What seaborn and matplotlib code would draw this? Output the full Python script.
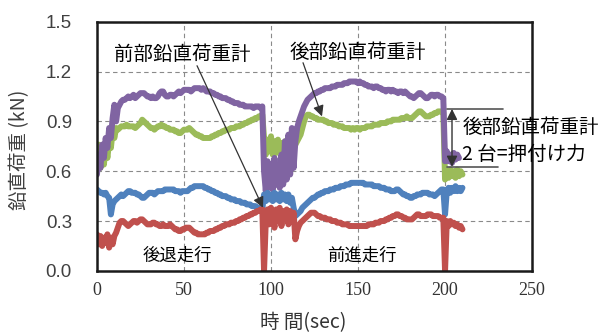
import numpy as np
import pandas as pd
import matplotlib
matplotlib.use("Agg")
import matplotlib.pyplot as plt
import seaborn as sns

nan = np.nan

# Load-cell channels sampled once per second (kN)
time_s = np.arange(212)

load_purple = [
    0.58, 0.70, 0.62, 0.76, 0.68, 0.80, 0.74, 0.86, 0.80, 0.92,
    1.00, 0.90, 0.98, 1.00, 1.02, 1.03, 1.03, 1.04, 1.05, 1.04,
    1.05, 1.06, 1.04, 1.05, 1.06, 1.07, 1.07, 1.07, 1.06, 1.05,
    1.05, 1.04, 1.05, 1.04, 1.04, 1.05, 1.07, 1.08, 1.08, 1.06,
    1.05, 1.05, 1.06, 1.06, 1.05, 1.06, 1.07, 1.08, 1.07, 1.08,
    1.09, 1.09, 1.09, 1.09, 1.08, 1.09, 1.10, 1.10, 1.10, 1.10,
    1.09, 1.10, 1.09, 1.08, 1.08, 1.08, 1.07, 1.07, 1.06, 1.06,
    1.05, 1.05, 1.04, 1.04, 1.04, 1.03, 1.03, 1.02, 1.02, 1.01,
    1.01, 1.01, 1.00, 1.00, 1.00, 0.99, 0.99, 0.99, 0.99, 0.99,
    0.98, 0.99, 0.99, 0.99, 0.98, 0.99, 0.60, 0.48, 0.66, 0.50,
    0.64, 0.49, 0.68, 0.52, 0.63, 0.50, 0.70, 0.52, 0.78, 0.55,
    0.82, 0.58, 0.86, 0.62, 0.78, 0.86, 0.90, 0.93, 0.96, 0.99,
    1.01, 1.03, 1.04, 1.05, 1.06, 1.07, 1.07, 1.08, 1.08, 1.09,
    1.09, 1.10, 1.10, 1.10, 1.10, 1.11, 1.11, 1.11, 1.12, 1.12,
    1.12, 1.12, 1.13, 1.13, 1.13, 1.14, 1.14, 1.14, 1.14, 1.14,
    1.13, 1.14, 1.13, 1.13, 1.12, 1.12, 1.11, 1.11, 1.11, 1.10,
    1.11, 1.11, 1.10, 1.10, 1.09, 1.09, 1.08, 1.09, 1.09, 1.08,
    1.09, 1.08, 1.08, 1.07, 1.08, 1.08, 1.07, 1.08, 1.07, 1.06,
    1.05, 1.05, 1.04, 1.05, 1.06, 1.07, 1.07, 1.06, 1.05, 1.04,
    1.04, 1.05, 1.06, 1.06, 1.05, 1.06, 1.06, 1.05, 1.05, 1.04,
    0.66, 0.72, 0.66, 0.70, 0.65, 0.71, 0.67, 0.70, 0.68, nan, nan, nan,
]

load_green = [
    0.60, 0.76, 0.62, 0.74, 0.64, 0.76, 0.68, 0.78, 0.74, 0.84,
    0.80, 0.86, 0.85, 0.86, 0.87, 0.87, 0.87, 0.88, 0.87, 0.87,
    0.87, 0.87, 0.86, 0.87, 0.88, 0.89, 0.91, 0.90, 0.89, 0.88,
    0.87, 0.86, 0.86, 0.85, 0.86, 0.87, 0.87, 0.88, 0.87, 0.87,
    0.86, 0.86, 0.85, 0.85, 0.85, 0.84, 0.84, 0.83, 0.83, 0.84,
    0.85, 0.85, 0.85, 0.86, 0.85, 0.84, 0.83, 0.82, 0.82, 0.81,
    0.81, 0.80, 0.80, 0.80, 0.80, 0.80, 0.81, 0.81, 0.82, 0.82,
    0.83, 0.83, 0.84, 0.84, 0.85, 0.85, 0.85, 0.86, 0.86, 0.86,
    0.87, 0.87, 0.87, 0.88, 0.88, 0.89, 0.89, 0.90, 0.90, 0.91,
    0.91, 0.92, 0.92, 0.93, 0.93, 0.94, 0.80, 0.70, 0.79, 0.72,
    0.81, 0.70, 0.78, 0.71, 0.79, 0.72, 0.77, 0.70, 0.78, 0.72,
    0.77, 0.71, 0.80, 0.74, 0.76, 0.78, 0.80, 0.82, 0.86, 0.90,
    0.93, 0.94, 0.94, 0.93, 0.93, 0.92, 0.92, 0.91, 0.91, 0.91,
    0.91, 0.90, 0.90, 0.89, 0.89, 0.89, 0.88, 0.88, 0.88, 0.87,
    0.87, 0.87, 0.86, 0.86, 0.86, 0.86, 0.85, 0.86, 0.85, 0.86,
    0.86, 0.85, 0.86, 0.86, 0.86, 0.87, 0.87, 0.87, 0.87, 0.88,
    0.88, 0.88, 0.88, 0.89, 0.89, 0.89, 0.89, 0.90, 0.90, 0.90,
    0.91, 0.91, 0.91, 0.91, 0.91, 0.92, 0.92, 0.92, 0.93, 0.92,
    0.92, 0.92, 0.93, 0.94, 0.95, 0.96, 0.96, 0.95, 0.94, 0.93,
    0.93, 0.93, 0.94, 0.94, 0.95, 0.95, 0.96, 0.96, 0.96, 0.95,
    0.55, 0.60, 0.56, 0.61, 0.57, 0.60, 0.56, 0.61, 0.57, 0.60, 0.58, nan,
]

load_blue = [
    0.49, 0.48, 0.47, 0.47, 0.46, 0.47, 0.45, 0.44, 0.34, 0.40,
    0.42, 0.43, 0.44, 0.45, 0.46, 0.45, 0.46, 0.47, 0.48, 0.48,
    0.47, 0.47, 0.47, 0.46, 0.46, 0.45, 0.44, 0.44, 0.45, 0.46,
    0.47, 0.47, 0.47, 0.46, 0.47, 0.48, 0.48, 0.48, 0.48, 0.49,
    0.49, 0.49, 0.49, 0.49, 0.49, 0.48, 0.48, 0.48, 0.47, 0.48,
    0.48, 0.48, 0.48, 0.49, 0.50, 0.50, 0.51, 0.51, 0.51, 0.51,
    0.51, 0.51, 0.50, 0.50, 0.49, 0.49, 0.48, 0.48, 0.47, 0.47,
    0.46, 0.46, 0.45, 0.45, 0.45, 0.44, 0.44, 0.43, 0.43, 0.43,
    0.42, 0.42, 0.42, 0.41, 0.41, 0.41, 0.40, 0.40, 0.40, 0.39,
    0.39, 0.39, 0.38, 0.38, 0.38, 0.37, 0.46, 0.42, 0.47, 0.43,
    0.46, 0.42, 0.47, 0.43, 0.46, 0.42, 0.47, 0.43, 0.46, 0.42,
    0.46, 0.41, 0.44, 0.38, 0.33, 0.34, 0.35, 0.36, 0.38, 0.39,
    0.40, 0.41, 0.42, 0.43, 0.44, 0.44, 0.45, 0.46, 0.46, 0.47,
    0.47, 0.48, 0.48, 0.48, 0.49, 0.49, 0.49, 0.50, 0.50, 0.50,
    0.51, 0.51, 0.51, 0.52, 0.52, 0.52, 0.53, 0.53, 0.53, 0.53,
    0.53, 0.53, 0.53, 0.53, 0.52, 0.52, 0.52, 0.52, 0.52, 0.51,
    0.51, 0.51, 0.51, 0.50, 0.50, 0.50, 0.49, 0.49, 0.49, 0.48,
    0.48, 0.48, 0.49, 0.49, 0.48, 0.47, 0.46, 0.46, 0.45, 0.45,
    0.44, 0.44, 0.45, 0.45, 0.46, 0.46, 0.46, 0.47, 0.47, 0.47,
    0.47, 0.46, 0.46, 0.46, 0.45, 0.46, 0.47, 0.48, 0.49, 0.49,
    0.34, 0.48, 0.50, 0.47, 0.50, 0.48, 0.51, 0.48, 0.50, 0.48, 0.50, nan,
]

load_red = [
    0.22, 0.16, 0.21, 0.15, 0.20, 0.17, 0.22, 0.14, 0.20, 0.16,
    0.21, 0.23, 0.26, 0.29, 0.30, 0.30, 0.29, 0.28, 0.27, 0.28,
    0.29, 0.30, 0.30, 0.29, 0.30, 0.31, 0.31, 0.30, 0.29, 0.28,
    0.28, 0.28, 0.29, 0.29, 0.28, 0.28, 0.27, 0.27, 0.28, 0.27,
    0.27, 0.27, 0.28, 0.27, 0.26, 0.25, 0.25, 0.24, 0.24, 0.25,
    0.25, 0.26, 0.26, 0.26, 0.25, 0.24, 0.23, 0.23, 0.22, 0.22,
    0.22, 0.22, 0.22, 0.23, 0.23, 0.24, 0.24, 0.24, 0.25, 0.25,
    0.26, 0.26, 0.27, 0.27, 0.28, 0.28, 0.28, 0.29, 0.29, 0.29,
    0.30, 0.30, 0.31, 0.31, 0.32, 0.32, 0.33, 0.33, 0.34, 0.34,
    0.35, 0.35, 0.36, 0.36, 0.37, 0.37, 0.00, 0.30, 0.37, 0.28,
    0.38, 0.32, 0.26, 0.37, 0.30, 0.38, 0.27, 0.36, 0.32, 0.37,
    0.28, 0.36, 0.30, 0.35, 0.19, 0.24, 0.27, 0.29, 0.30, 0.31,
    0.32, 0.33, 0.34, 0.35, 0.35, 0.35, 0.34, 0.33, 0.33, 0.32,
    0.32, 0.32, 0.31, 0.31, 0.31, 0.30, 0.30, 0.30, 0.29, 0.29,
    0.29, 0.28, 0.28, 0.28, 0.28, 0.27, 0.27, 0.27, 0.27, 0.27,
    0.27, 0.27, 0.27, 0.27, 0.27, 0.27, 0.28, 0.28, 0.28, 0.28,
    0.29, 0.29, 0.29, 0.30, 0.30, 0.30, 0.31, 0.31, 0.32, 0.32,
    0.33, 0.33, 0.34, 0.34, 0.33, 0.33, 0.32, 0.32, 0.31, 0.31,
    0.31, 0.31, 0.32, 0.33, 0.34, 0.34, 0.33, 0.33, 0.33, 0.33,
    0.34, 0.34, 0.34, 0.33, 0.33, 0.33, 0.33, 0.32, 0.32, 0.32,
    0.00, 0.30, 0.27, 0.30, 0.28, 0.29, 0.27, 0.28, 0.26, 0.27, 0.25, nan,
]

x_ticks = [0, 50, 100, 150, 200, 250]
y_ticks = [0.0, 0.3, 0.6, 0.9, 1.2, 1.5]

channel_order = ["green", "purple", "blue", "red"]
channel_colors = ["#9BBB59", "#8064A2", "#4F81BD", "#C0504D"]

df = pd.DataFrame({
    "time": time_s,
    "green": load_green,
    "purple": load_purple,
    "blue": load_blue,
    "red": load_red,
}).melt(id_vars="time", var_name="channel", value_name="load")

sns.set_theme(style="white")
plt.rcParams["font.family"] = ["Noto Sans CJK JP", "DejaVu Sans"]

fig = plt.figure(figsize=(6.06, 3.34), dpi=100)
ax = fig.add_axes([0.160, 0.189, 0.718, 0.746])

sns.lineplot(
    data=df, x="time", y="load", hue="channel",
    hue_order=channel_order, palette=channel_colors,
    linewidth=4.3, estimator=None, sort=False, legend=False, ax=ax,
)

ax.set_xlim(0, 250)
ax.set_ylim(0, 1.5)
ax.set_xticks(x_ticks)
ax.set_yticks(y_ticks)
ax.set_xticklabels([str(v) for v in x_ticks], fontfamily="Liberation Serif",
                   fontsize=13, color="#333333")
ax.set_yticklabels([f"{v:.1f}" for v in y_ticks], fontfamily="Liberation Sans",
                   fontsize=13.5, color="#404040")
ax.tick_params(axis="x", length=0, pad=8)
ax.tick_params(axis="y", length=0, pad=18)
ax.set_xlabel("")
ax.set_ylabel("")

ax.set_axisbelow(True)
ax.grid(True, linestyle=(0, (4, 3)), color="#8a8a8a", linewidth=0.8)
for sp in ax.spines.values():
    sp.set_visible(True)
    sp.set_color("#1a1a1a")
    sp.set_linewidth(1.8)

fig.text(303 / 606, 1 - 323 / 334, "時 間(sec)", ha="center", va="center",
         fontsize=14, color="#333333")
fig.text(20 / 606, 1 - 150 / 334, "鉛直荷重 (kN)", ha="center", va="center",
         rotation=90, fontsize=14, color="#404040")

arrow_kw = dict(arrowstyle="-|>", color="#333333", lw=0.9,
                mutation_scale=16, shrinkA=0, shrinkB=0)

# Front load-cell callout
ax.text(48.9, 1.30, "前部鉛直荷重計", ha="center", va="center",
        fontsize=14, color="black")
ax.annotate("", xy=(95.4, 0.38), xytext=(57.5, 1.235), arrowprops=arrow_kw)

# Rear load-cell callout
ax.text(150.0, 1.313, "後部鉛直荷重計", ha="center", va="center",
        fontsize=14, color="black")
ax.annotate("", xy=(129.3, 0.93), xytext=(118.4, 1.253), arrowprops=arrow_kw)

# Pressing-force bracket after the stop
ax.plot([201.1, 233.3], [0.975, 0.975], color="#555555", lw=1.2, clip_on=False)
ax.plot([201.1, 230.5], [0.627, 0.627], color="#555555", lw=1.2, clip_on=False)
ax.annotate("", xy=(204.0, 0.627), xytext=(204.0, 0.975),
            arrowprops=dict(arrowstyle="<|-|>", color="#333333", lw=1.0,
                            mutation_scale=16, shrinkA=0, shrinkB=0))
ax.text(209.8, 0.861, "後部鉛直荷重計", ha="left", va="center",
        fontsize=14, color="black", clip_on=False)
ax.text(209.8, 0.70, "2 台=押付け力", ha="left", va="center",
        fontsize=14, color="black", clip_on=False)

# Travel-phase labels
ax.text(46.0, 0.09, "後退走行", ha="center", va="center", fontsize=12.5, color="black")
ax.text(152.3, 0.09, "前進走行", ha="center", va="center", fontsize=12.5, color="black")

fig.savefig("out.png", dpi=100)
